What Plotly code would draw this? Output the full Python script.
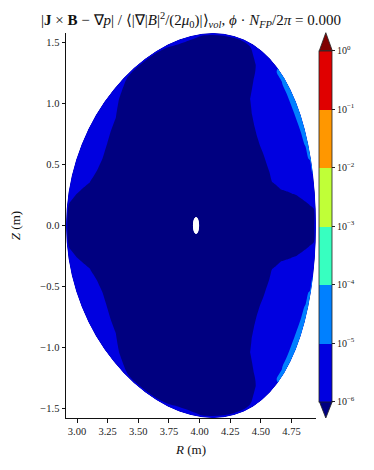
import numpy as np
import plotly.graph_objects as go

# ---------------- data ----------------
# poloidal angle samples (degrees, counter-clockwise from outboard midplane)
theta_deg = list(range(0, 360, 5))

# normalised radius rho where the force error first exceeds 1e-6 (blue band);
# values > 1 mean the error stays below 1e-6 out to the boundary
blue_start = [
    0.985, 0.985, 0.86, 0.72, 0.66, 0.655, 0.65, 0.65, 0.65, 0.66, 0.68, 0.71,   # 0..55
    0.76, 0.92, 0.975, 1.01, 1.01, 1.01, 1.01, 0.99, 0.978, 0.976, 0.985, 1.01,  # 60..115
    1.01, 1.01, 0.975, 0.93, 0.87, 0.85, 0.83, 0.82, 0.83, 0.86, 0.94, 1.01,     # 120..175
    1.01, 1.01, 0.94, 0.86, 0.83, 0.82, 0.83, 0.85, 0.87, 0.93, 0.975, 1.01,     # 180..235
    1.01, 1.01, 0.985, 0.976, 0.978, 0.99, 1.01, 1.01, 1.01, 1.01, 0.975, 0.92,  # 240..295
    0.76, 0.71, 0.68, 0.66, 0.65, 0.65, 0.65, 0.655, 0.66, 0.72, 0.86, 0.985,    # 300..355
]

# normalised radius where the error exceeds 1e-5 (light-blue band at the edge)
lightblue_start = [
    1.01, 1.01, 1.01, 1.01, 0.99, 0.975, 0.965, 0.96, 0.96, 0.965, 0.975, 1.01,  # 0..55
    1.01, 1.01, 1.01, 1.01, 1.01, 1.01, 1.01, 1.01, 1.01, 1.01, 1.01, 1.01,      # 60..115
    1.01, 1.01, 1.01, 1.01, 1.01, 1.01, 1.01, 1.01, 1.01, 1.01, 1.01, 1.01,      # 120..175
    1.01, 1.01, 1.01, 1.01, 1.01, 1.01, 1.01, 1.01, 1.01, 1.01, 1.01, 1.01,      # 180..235
    1.01, 1.01, 1.01, 1.01, 1.01, 1.01, 1.01, 1.01, 1.01, 1.01, 1.01, 1.01,      # 240..295
    1.01, 1.01, 0.975, 0.965, 0.96, 0.96, 0.965, 0.975, 0.99, 1.01, 1.01, 1.01,  # 300..355
]

# plasma boundary shape (m)
R_axis_major = 4.02
R_axis_shift = -0.049
a_minor = 1.02
c_triang = -0.09
b_vertical = 1.58
near_axis_elong = 0.27
near_axis_narrow = 0.35
rho_axis_hole = 0.035

# colour levels and colourbar labels
level_exponents = [-6, -5, -4, -3, -2, -1, 0]
tick_labels = ["10<sup>−6</sup>", "10<sup>−5</sup>", "10<sup>−4</sup>", "10<sup>−3</sup>",
               "10<sup>−2</sup>", "10<sup>−1</sup>", "10<sup>0</sup>"]
band_colors = ["#000080", "#0000e0", "#0080ff", "#37ffc0",
               "#c0ff37", "#ff9700", "#e00000", "#800000"]

x_ticks = [3.00, 3.25, 3.50, 3.75, 4.00, 4.25, 4.50, 4.75]
y_ticks = [-1.5, -1.0, -0.5, 0.0, 0.5, 1.0, 1.5]

# ---------------- build the carpet (rho, theta) table ----------------
FONT = "Liberation Serif"
rho = np.linspace(rho_axis_hole, 1.0, 194)
theta_nodes = np.array(theta_deg + [360])
blue_nodes = np.array(blue_start + [blue_start[0]])[:, None]
lb_nodes = np.array(lightblue_start + [lightblue_start[0]])[:, None]

th = np.deg2rad(theta_nodes)[:, None]
rr = rho[None, :]
core = (1 - rr) ** 4
R = (R_axis_major + R_axis_shift * (1 - rr**2)
     + a_minor * rr * (1 - near_axis_narrow * core) * np.cos(th)
     + c_triang * rr**2 * np.cos(2 * th))
Z = b_vertical * rr * (1 + near_axis_elong * core) * np.sin(th)

# log10(error): level crossings sit exactly at the tabulated radii
z_blue = np.minimum(-6 + (rr - blue_nodes) / 0.1, -5.05)
z_light = np.minimum(-5 + (rr - lb_nodes) / 0.02, -4.1)
zgrid = np.maximum(z_blue, z_light)

# stepped colour scale: band k centred on k/7 (contour fills sample level+size/2)
n = len(band_colors)
fill_scale = []
for k, col in enumerate(band_colors):
    lo = max(0.0, (2 * k - 1) / (2 * (n - 1)))
    hi = min(1.0, (2 * k + 1) / (2 * (n - 1)))
    fill_scale += [[lo, col], [hi, col]]

inner = band_colors[1:-1]
cb_scale = []
for k, col in enumerate(inner):
    cb_scale += [[k / len(inner), col], [(k + 1) / len(inner), col]]

hidden_axis = dict(showgrid=False, showline=False, showticklabels="none",
                   startline=False, endline=False, minorgridcount=0,
                   gridcolor="rgba(0,0,0,0)", linecolor="rgba(0,0,0,0)", smoothing=0)

fig = go.Figure()
fig.add_trace(go.Carpet(a=rho, b=theta_nodes, x=R, y=Z, carpet="flux",
                        aaxis=hidden_axis, baxis=hidden_axis))
fig.add_trace(go.Contourcarpet(
    a=rho, b=theta_nodes, z=zgrid, carpet="flux",
    autocontour=False,
    contours=dict(start=level_exponents[0], end=level_exponents[-1], size=1,
                  coloring="fill", showlines=False),
    line=dict(width=0),
    colorscale=fill_scale, showscale=False,
))

# colourbar (interior bands) carried by an invisible marker trace
fig.add_trace(go.Scatter(
    x=[None], y=[None], mode="markers", showlegend=False, hoverinfo="skip",
    marker=dict(color=[level_exponents[0]], colorscale=cb_scale,
                cmin=level_exponents[0], cmax=level_exponents[-1], showscale=True,
                colorbar=dict(
                    x=1.0132, xanchor="left", xpad=0,
                    y=0.4986, yanchor="middle", ypad=0,
                    len=351, lenmode="pixels", thickness=13, thicknessmode="pixels",
                    outlinewidth=0.8, outlinecolor="#222",
                    tickmode="array", tickvals=level_exponents, ticktext=tick_labels,
                    ticks="outside", ticklen=3, tickwidth=0.8, tickcolor="#222",
                    tickfont=dict(family=FONT, size=10, color="#222"),
                )),
))

# extension triangles of the colourbar (under / over colours)
fig.add_shape(type="path", xref="paper", yref="paper",
              path="M 1.0132 0.954 L 1.0392 1.0008 L 1.0652 0.954 Z",
              fillcolor=band_colors[-1], line=dict(color="#222", width=0.8))
fig.add_shape(type="path", xref="paper", yref="paper",
              path="M 1.0132 0.0431 L 1.0392 0.0 L 1.0652 0.0431 Z",
              fillcolor=band_colors[0], line=dict(color="#222", width=0.8))

title = ("|<b>J</b> × <b>B</b> − ∇<i>p</i>| / ⟨|∇|<i>B</i>|<sup>2</sup>/(2<i>μ</i><sub>0</sub>)|⟩"
         "<sub><i>vol</i></sub>, <i>ϕ</i> · <i>N</i><sub><i>FP</i></sub>/2<i>π</i> = 0.000")

axis_common = dict(showgrid=False, zeroline=False, showline=True, linecolor="#111",
                   linewidth=1, ticks="outside", ticklen=3.5, tickwidth=0.8,
                   tickcolor="#111", mirror=False,
                   tickfont=dict(family=FONT, size=10.5, color="#222"))

# the page body adds an 8 px offset, so the figure is 8 px smaller on each side
fig.update_layout(
    width=366, height=462,
    margin=dict(l=58, r=58, t=25, b=52, autoexpand=False),
    paper_bgcolor="white", plot_bgcolor="white",
    showlegend=False,
    title=dict(text=title, x=0.5, xref="paper", xanchor="center",
               y=1 - 12 / 462, yref="container", yanchor="middle",
               font=dict(family=FONT, size=15, color="#111")),
    xaxis=dict(range=[2.91, 4.95], tickvals=x_ticks, tickformat=".2f",
               title=dict(text="<i>R</i> (m)", standoff=8,
                          font=dict(family=FONT, size=13, color="#111")),
               **axis_common),
    yaxis=dict(range=[-1.58, 1.58], tickvals=y_ticks, tickformat=".1f",
               title=dict(text="<i>Z</i> (m)", standoff=17,
                          font=dict(family=FONT, size=13, color="#111")),
               **axis_common),
)

fig.write_html("out.html")
